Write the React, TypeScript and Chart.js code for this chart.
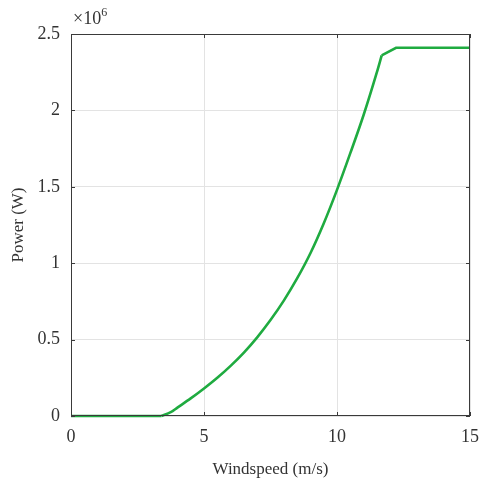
import React, { useEffect, useRef } from "react";
import { Chart, registerables } from "chart.js";

Chart.register(...registerables);

// Turbine power curve: wind speed (m/s) against electrical power (W)
const windSpeeds = [0, 3.4, 3.75, 4, 4.5, 5, 5.5, 6, 6.5, 7, 7.5, 8, 8.5, 9, 9.5, 10, 10.5, 11, 11.5, 11.68, 12.22, 15];
const powerMW = [0, 0, 0.025, 0.055, 0.115, 0.18, 0.25, 0.328, 0.415, 0.515, 0.628, 0.755, 0.9, 1.065, 1.26, 1.48, 1.72, 1.97, 2.25, 2.36, 2.41, 2.41];
const cutInIndex = 1; // below cut-in speed the output is zero
const ratedIndex = 19; // pitch control takes over from here
const xTicks = [0, 5, 10, 15];
const yTicks = [0, 0.5, 1, 1.5, 2, 2.5];

const FONT = "'Liberation Serif', 'Times New Roman', serif";
const AXIS_COLOR = "#3a3a3a";
const LINE_COLOR = "#1fab40";

// Full box frame, inward tick marks and the ×10^6 exponent label
const framePlugin = {
  id: "frame",
  afterDraw(chart: any) {
    const { ctx, chartArea: a, scales } = chart;
    ctx.save();
    ctx.strokeStyle = AXIS_COLOR;
    ctx.lineWidth = 1;
    ctx.strokeRect(a.left + 0.5, a.top + 0.5, a.right - a.left - 1, a.bottom - a.top - 1);
    ctx.beginPath();
    for (const v of xTicks) {
      const px = Math.round(scales.x.getPixelForValue(v)) + 0.5;
      ctx.moveTo(px, a.bottom);
      ctx.lineTo(px, a.bottom - 4);
      ctx.moveTo(px, a.top);
      ctx.lineTo(px, a.top + 4);
    }
    for (const v of yTicks) {
      const py = Math.round(scales.y.getPixelForValue(v * 1e6)) + 0.5;
      ctx.moveTo(a.left, py);
      ctx.lineTo(a.left + 4, py);
      ctx.moveTo(a.right, py);
      ctx.lineTo(a.right - 4, py);
    }
    ctx.stroke();

    ctx.fillStyle = "#333";
    ctx.textBaseline = "alphabetic";
    ctx.textAlign = "left";
    ctx.font = `18px ${FONT}`;
    const base = "×10";
    ctx.fillText(base, a.left + 2, 24);
    const w = ctx.measureText(base).width;
    ctx.font = `12px ${FONT}`;
    ctx.fillText("6", a.left + 2 + w, 16);
    ctx.restore();
  },
};

export default function App() {
  const ref = useRef<HTMLCanvasElement>(null);

  useEffect(() => {
    if (!ref.current) return;
    const points = windSpeeds.map((x, i) => ({ x, y: powerMW[i] * 1e6 }));
    const base = {
      borderColor: LINE_COLOR,
      borderWidth: 2.6,
      pointRadius: 0,
      fill: false,
      clip: false as any,
    };
    const chart = new Chart(ref.current, {
      type: "line",
      data: {
        datasets: [
          { ...base, data: points.slice(0, cutInIndex + 1), tension: 0 },
          { ...base, data: points.slice(cutInIndex, ratedIndex + 1), cubicInterpolationMode: "monotone" },
          { ...base, data: points.slice(ratedIndex), tension: 0 },
        ],
      },
      options: {
        responsive: false,
        animation: false,
        maintainAspectRatio: false,
        layout: { padding: { left: 0, top: 34, right: 12, bottom: 0 } },
        plugins: {
          legend: { display: false },
          tooltip: { enabled: false },
        },
        scales: {
          x: {
            type: "linear",
            min: 0,
            max: 15,
            afterBuildTicks: (s: any) => {
              s.ticks = xTicks.map((v) => ({ value: v }));
            },
            afterFit: (s: any) => {
              s.height = 64;
              s.paddingLeft = 0;
              s.paddingRight = 0;
            },
            grid: { color: "#e3e3e3", lineWidth: 1, drawTicks: false },
            border: { display: false },
            ticks: {
              color: "#333",
              font: { family: FONT, size: 18 },
              padding: 10,
              maxRotation: 0,
              callback: (v: any) => String(v),
            },
            title: {
              display: true,
              text: "Windspeed (m/s)",
              color: "#333",
              font: { family: FONT, size: 17 },
              padding: { top: 3, bottom: 0 },
            },
          },
          y: {
            type: "linear",
            min: 0,
            max: 2.5e6,
            afterBuildTicks: (s: any) => {
              s.ticks = yTicks.map((v) => ({ value: v * 1e6 }));
            },
            afterFit: (s: any) => {
              s.width = 71;
              s.paddingTop = 0;
              s.paddingBottom = 0;
            },
            grid: { color: "#e3e3e3", lineWidth: 1, drawTicks: false },
            border: { display: false },
            ticks: {
              color: "#333",
              font: { family: FONT, size: 18 },
              padding: 11,
              callback: (v: any) => String(Number(v) / 1e6),
            },
            title: {
              display: true,
              text: "Power (W)",
              color: "#333",
              font: { family: FONT, size: 17 },
              padding: { top: 8, bottom: 0 },
            },
          },
        },
      },
      plugins: [framePlugin],
    });
    return () => chart.destroy();
  }, []);

  return (
    <div style={{ position: "fixed", left: 0, top: 0, width: 482, height: 480, background: "#fff" }}>
      <canvas ref={ref} width={482} height={480} style={{ width: 482, height: 480 }} />
    </div>
  );
}
